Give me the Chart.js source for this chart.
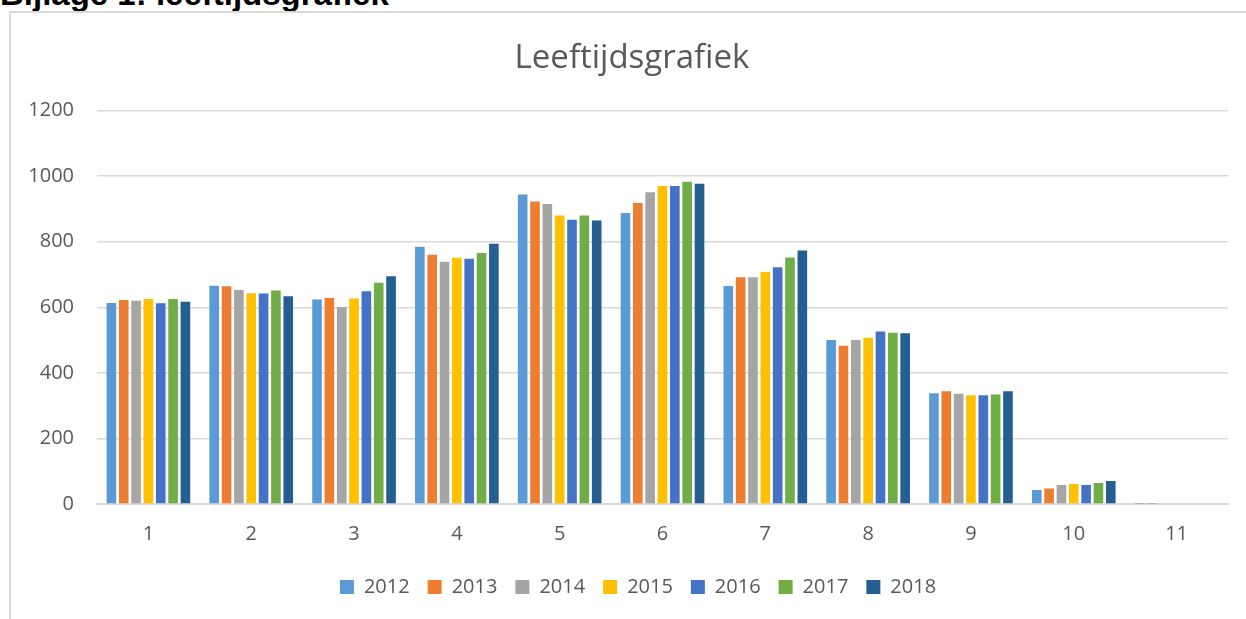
<!DOCTYPE html>
<html>
<head>
<meta charset="utf-8">
<script src="https://cdn.jsdelivr.net/npm/chart.js@4"></script>
<style>
  html, body { margin: 0; padding: 0; background: #fff; overflow: hidden; }
  #kop {
    position: absolute; left: 0; top: -26px;
    font-family: "Liberation Sans", Arial, sans-serif; font-weight: bold; font-size: 33px;
    line-height: 40px; color: #000; white-space: nowrap;
  }
  #rand {
    position: absolute; left: 9px; top: 11px; width: 1300px; height: 700px;
    border-left: 2px solid #d9d9d9; border-top: 2px solid #d9d9d9;
  }
  #wrap { position: absolute; left: 0; top: 0; width: 1246px; height: 619px; }
</style>
</head>
<body>
<div id="kop">Bijlage 1: leeftijdsgrafiek</div>
<div id="rand"></div>
<div id="wrap"><canvas id="leeftijd"></canvas></div>
<script>
const categories = ['1', '2', '3', '4', '5', '6', '7', '8', '9', '10', '11'];
const yTicks = [0, 200, 400, 600, 800, 1000, 1200];

const jaar2012 = [613, 666, 624, 785, 944, 888, 665, 500, 338, 43, 1];
const jaar2013 = [622, 664, 628, 760, 923, 918, 692, 483, 344, 47, 1];
const jaar2014 = [620, 653, 601, 739, 915, 951, 692, 500, 336, 58, 0];
const jaar2015 = [625, 643, 627, 751, 880, 970, 708, 507, 332, 61, 0];
const jaar2016 = [612, 642, 649, 748, 867, 970, 722, 526, 332, 58, 0];
const jaar2017 = [625, 651, 675, 766, 880, 983, 752, 522, 334, 64, 0];
const jaar2018 = [617, 634, 695, 794, 865, 977, 773, 521, 344, 70, 0];

const series = [
  { label: '2012', data: jaar2012, color: '#5B9BD5' },
  { label: '2013', data: jaar2013, color: '#ED7D31' },
  { label: '2014', data: jaar2014, color: '#A5A5A5' },
  { label: '2015', data: jaar2015, color: '#FFC000' },
  { label: '2016', data: jaar2016, color: '#4472C4' },
  { label: '2017', data: jaar2017, color: '#70AD47' },
  { label: '2018', data: jaar2018, color: '#255E91' }
];

const font = 'Open Sans';
const grey = '#595959';

// Excel centres title and legend on the whole chart box, which runs past the right edge
const shiftBlocks = {
  id: 'shiftBlocks',
  afterLayout(chart) {
    const move = (box, dx) => { if (box) { box.left += dx; box.right += dx; } };
    move(chart.titleBlock, 18);
    move(chart.legend, 24);
  }
};

new Chart(document.getElementById('leeftijd'), {
  type: 'bar',
  data: {
    labels: categories,
    datasets: series.map(s => ({
      label: s.label,
      data: s.data,
      backgroundColor: s.color,
      borderWidth: 0,
      categoryPercentage: 0.84,
      barPercentage: 0.78
    }))
  },
  options: {
    responsive: true,
    maintainAspectRatio: false,
    animation: false,
    layout: { padding: { left: 0, right: 18, top: 0, bottom: 12 } },
    plugins: {
      title: {
        display: true,
        text: 'Leeftijdsgrafiek',
        color: grey,
        font: { family: font, size: 33, weight: 'normal' },
        padding: { top: 39, bottom: 32 }
      },
      legend: {
        position: 'bottom',
        labels: {
          color: grey,
          font: { family: font, size: 20 },
          boxWidth: 14,
          boxHeight: 14,
          padding: 18
        }
      },
      tooltip: { enabled: false }
    },
    scales: {
      x: {
        grid: { display: false, drawTicks: false },
        border: { color: '#d9d9d9', width: 2 },
        ticks: { color: grey, font: { family: font, size: 20 }, padding: 18 },
        afterFit: s => { s.height = 55; }
      },
      y: {
        min: 0,
        max: 1200,
        afterBuildTicks: s => { s.ticks = yTicks.map(v => ({ value: v })); },
        grid: { color: '#d9d9d9', lineWidth: 1.5, drawTicks: false },
        border: { display: false },
        ticks: {
          color: grey,
          font: { family: font, size: 20 },
          padding: 23,
          callback: v => String(v)
        },
        afterFit: s => { s.width = 97; }
      }
    }
  },
  plugins: [shiftBlocks]
});
</script>
</body>
</html>
